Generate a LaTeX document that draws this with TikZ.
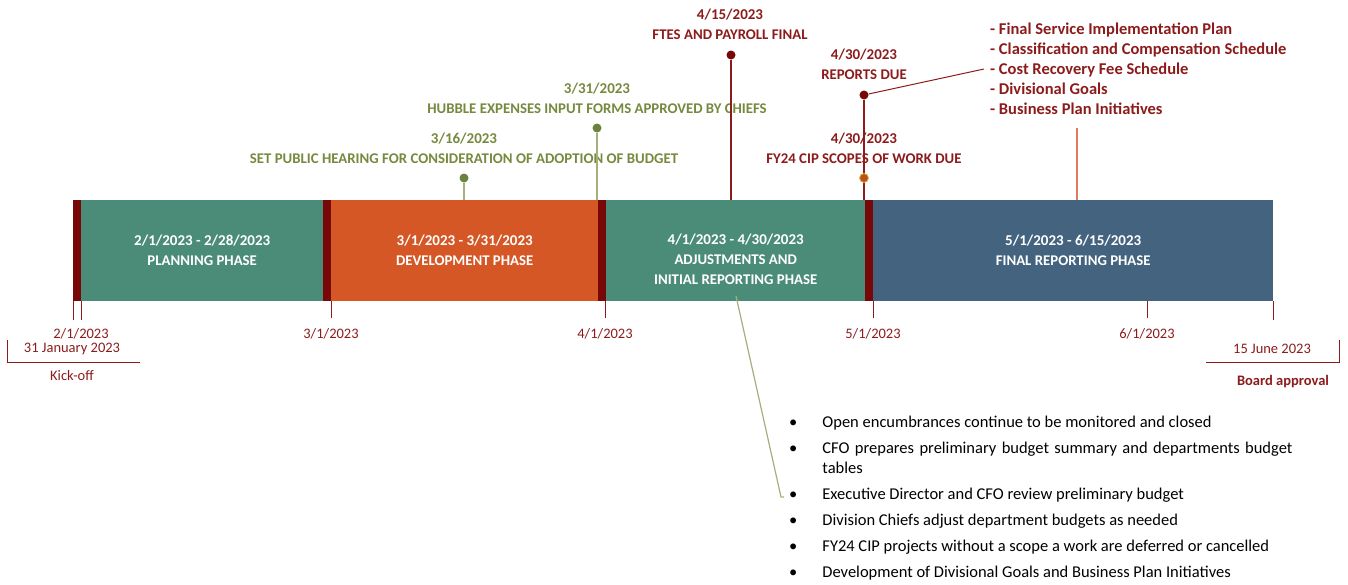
\documentclass[tikz,border=0pt]{standalone}
\usepackage{fontspec}
\setmainfont{Carlito}
\usetikzlibrary{positioning, calc}
\definecolor{phteal}{HTML}{4B8C78}
\definecolor{phorange}{HTML}{D65726}
\definecolor{phblue}{HTML}{43637F}
\definecolor{sepred}{HTML}{780808}
\definecolor{lblred}{HTML}{8C1C1C}
\definecolor{lblgreen}{HTML}{76893F}
\definecolor{dotgreen}{HTML}{6E8240}
\definecolor{linegreen}{HTML}{A4B07C}
\definecolor{salmon}{HTML}{E07B5C}
\definecolor{cipdot}{HTML}{B5541C}
\definecolor{cipring}{HTML}{E8B040}
\newcommand\datefont{\fontsize{15}{20}\selectfont}
\newcommand\capsfont{\fontsize{14.8}{20}\selectfont}
\newcommand\txtfont{\fontsize{16.5}{20}\selectfont}
\tikzset{
  phase/.style={minimum height=101pt, inner sep=0pt, text=white, font=\capsfont\bfseries, align=center, anchor=north west},
  sepbar/.style={fill=sepred, minimum width=8pt, minimum height=101pt, inner sep=0pt, anchor=north west},
  evdot/.style={circle, inner sep=0pt, minimum size=9pt},
  evtxt/.style={font=\capsfont\bfseries, align=center},
  datelbl/.style={text=lblred, font=\fontsize{14.5}{20}\selectfont},
  tickline/.style={draw=lblred, line width=0.9pt},
}
\begin{document}
\begin{tikzpicture}[x=1pt, y=-1pt]
    \useasboundingbox (0,0) rectangle (1348,584);
    % phases
    \node[sepbar] (s1) at (73,200) {};
    \node[phase, fill=phteal, minimum width=242pt] (plan) at (81,200) {{\datefont 2/1/2023 - 2/28/2023}\\PLANNING PHASE};
    \node[sepbar] (s2) at (323,200) {};
    \node[phase, fill=phorange, minimum width=267pt] (dev) at (331,200) {{\datefont 3/1/2023 - 3/31/2023}\\DEVELOPMENT PHASE};
    \node[sepbar] (s3) at (598,200) {};
    \node[phase, fill=phteal, minimum width=259pt] (adj) at (606,200) {};
    \node[phase, anchor=center] (adjtxt) at ($(adj.center)+(0,9)$) {{\datefont 4/1/2023 - 4/30/2023}\\ADJUSTMENTS AND\\INITIAL REPORTING PHASE};
    \node[sepbar] (s4) at (865,200) {};
    \node[phase, fill=phblue, minimum width=400pt] (final) at (873,200) {{\datefont 5/1/2023 - 6/15/2023}\\FINAL REPORTING PHASE};

    % ticks and dates below
    \draw[tickline] (s1.south west) -- ++(0,19);
    \draw[tickline] (s1.south east) -- ++(0,19);
    \draw[tickline] (s2.south east) -- ++(0,17);
    \draw[tickline] ($(s3.south east)+(-1,0)$) -- ++(0,17);
    \draw[tickline] (s4.south east) -- ++(0,17);
    \draw[tickline] ($(final.south west)!0.685!(final.south east)$) -- ++(0,17);
    \draw[tickline] (final.south east) -- ++(0,19);
    \node[datelbl] (d21) at (81,334) {2/1/2023};
    \node[datelbl] (d31) at (331,334) {3/1/2023};
    \node[datelbl] (d41) at (605,334) {4/1/2023};
    \node[datelbl] (d51) at (873,334) {5/1/2023};
    \node[datelbl] (d61) at (1147,334) {6/1/2023};
    \node[datelbl] (jan31) at (72,349) {31 January 2023};
    \node[datelbl] (kick) at (72,376) {Kick-off};
    \draw[tickline] (7,340) |- (140,362);
    \node[datelbl] (jun15) at (1272,349) {15 June 2023};
    \node[datelbl, font=\fontsize{14.5}{20}\selectfont\bfseries] (board) at (1283,382) {Board approval};
    \draw[tickline] (1206,362) -| (1339,340);

    % events above
    \node[evdot, fill=dotgreen] (e316) at (464,178) {};
    \node[evtxt, text=lblgreen] (l316) at (464,148) {{\datefont 3/16/2023}\\SET PUBLIC HEARING FOR CONSIDERATION OF ADOPTION OF BUDGET};
    \node[evdot, fill=dotgreen] (e331) at (597,128) {};
    \node[evtxt, text=lblgreen] (l331) at (597,98) {{\datefont 3/31/2023}\\HUBBLE EXPENSES INPUT FORMS APPROVED BY CHIEFS};
    \node[evdot, fill=sepred] (e415) at (731,55) {};
    \node[evtxt, text=lblred] (l415) at (730,24) {{\datefont 4/15/2023}\\FTES AND PAYROLL FINAL};
    \node[evdot, fill=sepred] (e430) at (864,95) {};
    \node[evtxt, text=lblred] (l430) at (864,64) {{\datefont 4/30/2023}\\REPORTS DUE};
    \node[evtxt, text=lblred] (lcip) at (864,148) {{\datefont 4/30/2023}\\FY24 CIP SCOPES OF WORK DUE};
    \draw[linegreen, line width=1.3pt] (e316) -- (e316 |- dev.north);
    \draw[linegreen, line width=1.3pt] (e331) -- (e331 |- dev.north);
    \draw[lblred, line width=1.2pt] (e415) -- (e415 |- adj.north);
    \draw[lblred, line width=1.2pt] (e430) -- (e430 |- adj.north);
    \node[evdot, fill=cipdot, draw=cipring, line width=0.8pt] (ecip) at (864,178) {};

    % deliverables list
    \node[anchor=west, align=left, text=lblred, font=\txtfont\bfseries, inner sep=0pt] (deliv) at (990,69)
      {- Final Service Implementation Plan\\- Classification and Compensation Schedule\\- Cost Recovery Fee Schedule\\- Divisional Goals\\- Business Plan Initiatives};
    \draw[lblred, line width=1pt] (e430) -- ($(deliv.west)+(-6,0)$);
    \coordinate (dtail) at (1077,128);
    \draw[salmon, line width=1.2pt] (dtail) -- (dtail |- final.north);

    % task list
    \node[anchor=north west, inner sep=0pt, font=\txtfont] (tasks) at (789,413) {%
      \begin{tabular}{@{}l@{\hspace{25pt}}p{470pt}@{}}
      \textbullet & Open encumbrances continue to be monitored and closed\\[6pt]
      \textbullet & CFO prepares preliminary budget summary and departments budget tables\\[6pt]
      \textbullet & Executive Director and CFO review preliminary budget\\[6pt]
      \textbullet & Division Chiefs adjust department budgets as needed\\[6pt]
      \textbullet & FY24 CIP projects without a scope a work are deferred or cancelled\\[6pt]
      \textbullet & Development of Divisional Goals and Business Plan Initiatives
      \end{tabular}};
    \coordinate (adjpt) at (736,296);
    \coordinate (taskpt) at (781,497);
    \draw[linegreen, line width=1.2pt] (adjpt) -- (taskpt) -- ++(3,0);
\end{tikzpicture}
\end{document}
